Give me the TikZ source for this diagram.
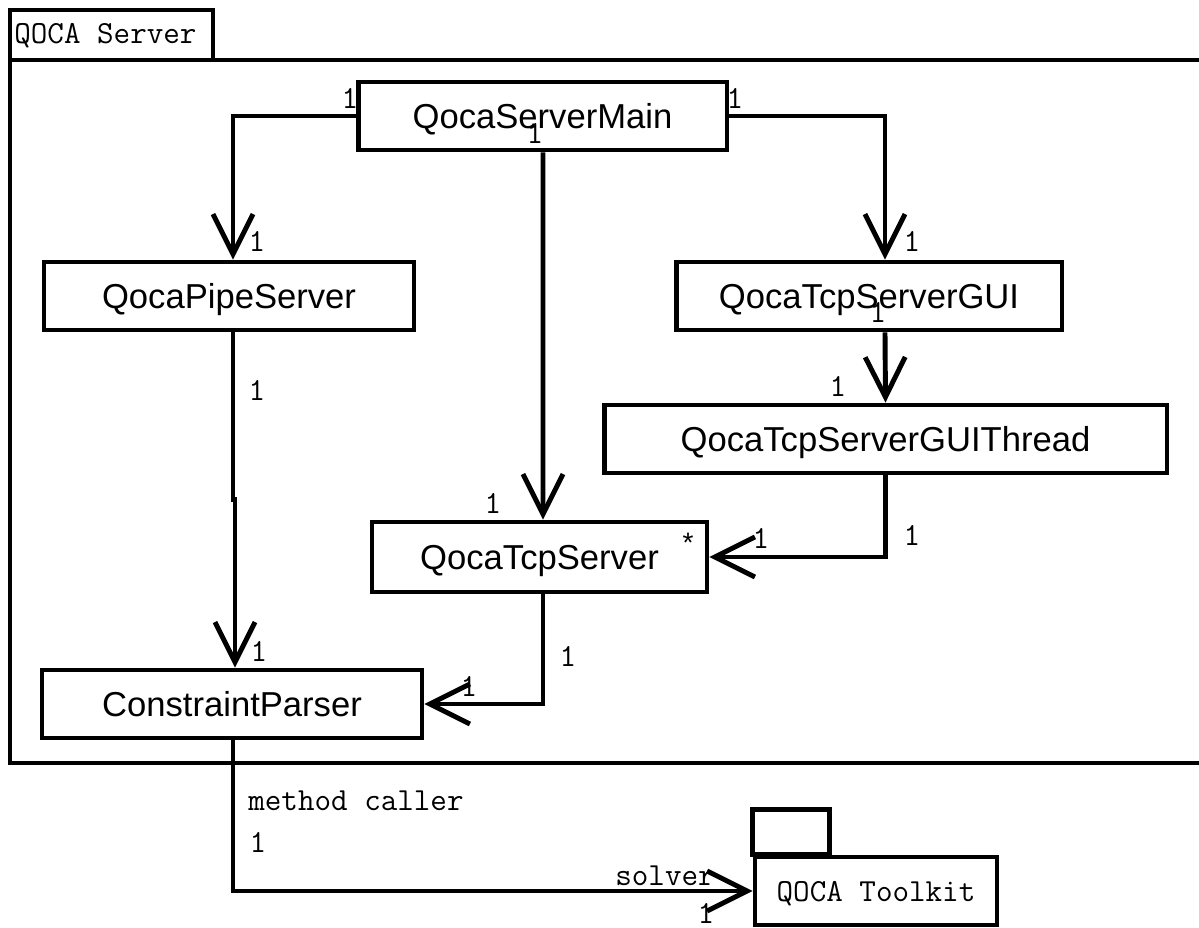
\documentclass[tikz,border=0pt]{standalone}
\usepackage{fontspec}
\setmainfont{Liberation Sans}
\usetikzlibrary{arrows.meta}

\tikzset{
    umlclass/.style={draw, line width=2.8pt, minimum height=1.36cm, inner sep=0pt,
        text depth=0pt, font=\fontsize{19.7}{23}\selectfont},
    mult/.style={font=\ttfamily\fontsize{18.3}{20}\selectfont, inner sep=0pt},
    assoc/.style={line width=2.8pt, -{Straight Barb[length=0.8cm,width=0.8cm]}},
    plain/.style={line width=2.8pt},
}

\begin{document}
\begin{tikzpicture}[x=0.02cm, y=-0.02cm]
    \useasboundingbox (0,0) rectangle (1199,928);
    % package frame
    \draw[plain] (10,60) rectangle (1210,763);
    \draw[plain] (10,10) rectangle (213,60);
    \node[mult, anchor=west] (srvname) at (14,36) {QOCA Server};

    \node[umlclass, minimum width=7.38cm] (main) at (542.5,116) {QocaServerMain};
    \node[umlclass, minimum width=7.40cm] (pipe) at (229,296) {QocaPipeServer};
    \node[umlclass, minimum width=7.72cm] (gui) at (869,296) {QocaTcpServerGUI};
    \node[umlclass, minimum width=11.26cm] (thread) at (885.5,439) {QocaTcpServerGUIThread};
    \node[umlclass, minimum width=6.70cm, minimum height=1.40cm] (tcp) at (539.5,557) {QocaTcpServer};
    \node[umlclass, minimum width=7.60cm] (parser) at (232,704) {ConstraintParser};
    \node[umlclass, minimum width=4.84cm, font=\ttfamily\fontsize{18.3}{20}\selectfont] (toolkit) at (876,891) {QOCA Toolkit};
    \draw[plain] (toolkit.north west) rectangle ++(77,-45);

    \draw[assoc] (main.west) -| ([xshift=0.08cm]pipe.north);
    \draw[assoc] (main.east) -| ([xshift=0.32cm]gui.north);
    \draw[assoc] ([xshift=0.01cm]main.south) -- ([xshift=0.07cm]tcp.north);
    \draw[assoc] ([xshift=0.32cm]gui.south) -- (thread.north);
    \draw[assoc] (thread.south) |- (tcp.east);
    \draw[assoc] ([xshift=0.08cm]pipe.south) -- ++(0,167) -| ([xshift=0.06cm]parser.north);
    \draw[assoc] ([xshift=0.07cm]tcp.south) |- (parser.east);
    \draw[assoc] ([xshift=0.02cm]parser.south) |- (toolkit.west);

    % multiplicities
    \node[mult] (m1) at (350,98) {1};
    \node[mult] (m2) at (735,98) {1};
    \node[mult] (m3) at (535,133) {1};
    \node[mult] (m4) at (257,241) {1};
    \node[mult] (m5) at (912,241) {1};
    \node[mult] (m6) at (257,390) {1};
    \node[mult] (m7) at (878,312) {1};
    \node[mult] (m8) at (838,386) {1};
    \node[mult] (m9) at (493,503) {1};
    \node[font=\fontsize{16}{18}\selectfont, inner sep=0pt] (m10) at (688,543) {*};
    \node[mult] (m11) at (761,538) {1};
    \node[mult] (m12) at (912,535) {1};
    \node[mult] (m13) at (259,651) {1};
    \node[mult] (m14) at (568,656) {1};
    \node[mult] (m15) at (469,686) {1};
    \node[mult, anchor=west] (caller) at (248,801) {method caller};
    \node[mult] (m16) at (258,842) {1};
    \node[mult] (solver) at (665,876) {solver};
    \node[mult] (m17) at (706,913) {1};
\end{tikzpicture}
\end{document}
